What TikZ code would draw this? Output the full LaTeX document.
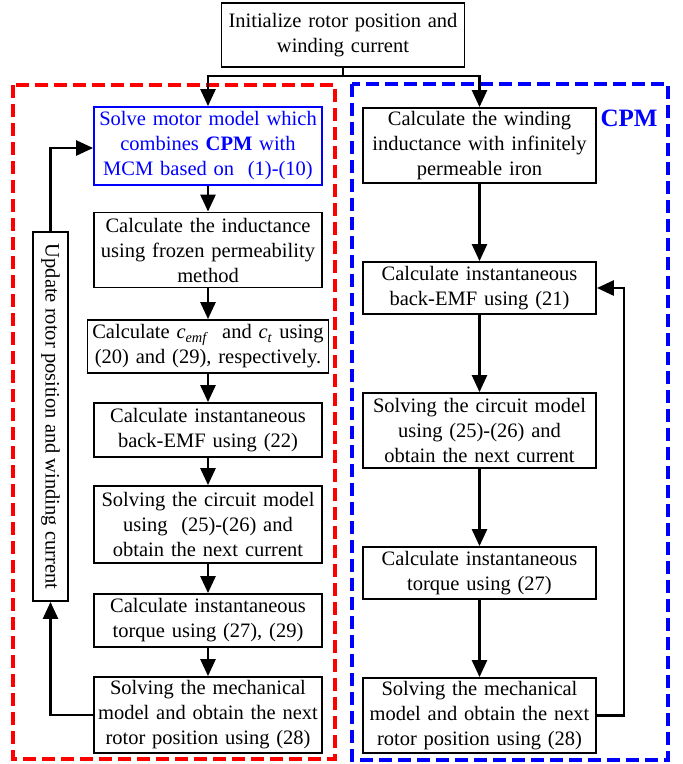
\documentclass[tikz,border=0pt]{standalone}
\usepackage{fontspec}
\setmainfont{Liberation Serif}
\usepackage{tikz}
\usetikzlibrary{arrows.meta,positioning,calc}
\definecolor{cpmblue}{HTML}{0000FF}
\definecolor{mcmred}{HTML}{FF0000}

\begin{document}
\begin{tikzpicture}[x=1pt, y=-1pt,
    block/.style={rectangle, draw=black, line width=1.8pt, fill=white, inner sep=2pt, align=center, font=\fontsize{20.5}{25}\selectfont, text width=#1-4pt},
    block/.default=228,
    region/.style={draw=#1, line width=3.2pt, dash pattern=on 13pt off 6pt},
    arrow/.style={-{Triangle[length=17pt,width=15pt]}, line width=2.6pt, color=black}
]
    \useasboundingbox (0,0) rectangle (683,764);

    % Regions
    \draw[region=mcmred] (13,85) rectangle (335,759);
    \draw[region=cpmblue] (352,84) rectangle (668,760);
    \node[font=\fontsize{25}{28}\selectfont\bfseries, text=cpmblue] (cpmlabel) at (629,118) {CPM};

    % Start
    \node[block=243, minimum height=64] (init) at (343,35) {Initialize rotor position and\\winding current};
    \coordinate (split) at (343,76);

    % Left column
    \node[block, minimum height=78, draw=cpmblue, text=cpmblue] (solve) at (208,146) {Solve motor model which\\combines \textbf{CPM} with\\MCM based on\ \ (1)-(10)};
    \node[block, minimum height=75] (induct) at (208,250) {Calculate the inductance\\using frozen permeability\\method};
    \node[block=241, minimum height=53] (coef) at (208,346.5) {Calculate \textit{c}\textsubscript{\textit{emf}}\ \ and \textit{c}\textsubscript{\textit{t}} using\\(20) and (29), respectively.};
    \node[block, minimum height=54] (bemf) at (208,430) {Calculate instantaneous\\back-EMF using (22)};
    \node[block, minimum height=77] (circ) at (208,524.5) {Solving the circuit model\\using\ \ (25)-(26) and\\obtain the next current};
    \node[block, minimum height=53] (torq) at (208,620.5) {Calculate instantaneous\\torque using (27), (29)};
    \node[block, minimum height=76] (mech) at (208,715) {Solving the mechanical\\model and obtain the next\\rotor position using (28)};

    % Update
    \node[rectangle, draw=black, line width=1.8pt, inner sep=0pt, minimum width=35, minimum height=369, font=\fontsize{20.5}{25}\selectfont] (update) at (50.5,416.5) {\rotatebox{-90}{Update rotor position and winding current}};

    % Right column
    \node[block=233, minimum height=75] (rind) at (479.5,145.5) {Calculate the winding\\inductance with infinitely\\permeable iron};
    \node[block=233, minimum height=52] (rbemf) at (479.5,288) {Calculate instantaneous\\back-EMF using (21)};
    \node[block=233, minimum height=75] (rcirc) at (479.5,430.5) {Solving the circuit model\\using (25)-(26) and\\obtain the next current};
    \node[block=233, minimum height=52] (rtorq) at (479.5,573) {Calculate instantaneous\\torque using (27)};
    \node[block=233, minimum height=75] (rmech) at (479.5,715.5) {Solving the mechanical\\model and obtain the next\\rotor position using (28)};

    \draw[line width=2.6pt] (init) -- (split);
    \draw[arrow] (split) -| (solve);
    \draw[arrow] (split) -| (rind);

    \draw[arrow] (solve) -- (induct);
    \draw[arrow] (induct) -- (coef);
    \draw[arrow] (coef) -- (bemf);
    \draw[arrow] (bemf) -- (circ);
    \draw[arrow] (circ) -- (torq);
    \draw[arrow] (torq) -- (mech);
    \draw[arrow] (mech.west) -| (update.south);
    \draw[arrow] (update.north) |- ($(solve.west)+(0,2)$);

    \draw[arrow] (rind) -- (rbemf);
    \draw[arrow] (rbemf) -- (rcirc);
    \draw[arrow] (rcirc) -- (rtorq);
    \draw[arrow] (rtorq) -- (rmech);
    \draw[arrow] (rmech.east) -- ++(27,0) |- (rbemf.east);
\end{tikzpicture}
\end{document}
